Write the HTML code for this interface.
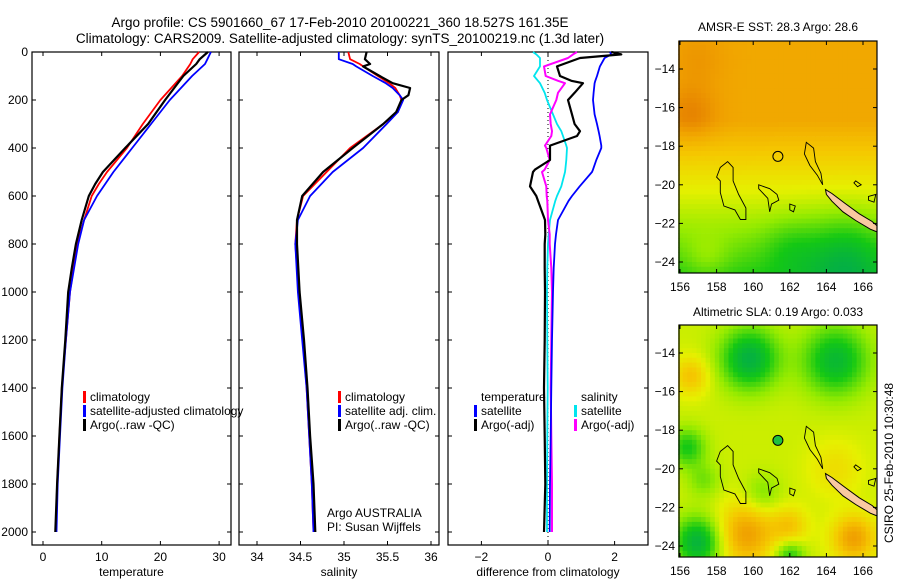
<!DOCTYPE html>
<html><head><meta charset="utf-8"><style>
html,body{margin:0;padding:0;background:#fff;}
svg{display:block;font-family:"Liberation Sans",sans-serif;}
text{font-size:12px;fill:#000;}
</style></head><body>
<svg id="fig" width="900" height="580" viewBox="0 0 900 580">
<text x="340" y="27" text-anchor="middle" style="font-size:13.5px">Argo profile: CS 5901660_67 17-Feb-2010 20100221_360 18.527S 161.35E</text>
<text x="340" y="43" text-anchor="middle" style="font-size:13.5px">Climatology: CARS2009. Satellite-adjusted climatology: synTS_20100219.nc (1.3d later)</text>
<g id="maps"></g>
<g id="panels"></g>
</svg>
<script>
// ---- data ----
const tDepth=[0,30,50,100,200,300,400,500,550,600,700,800,900,1000,1200,1400,1600,1800,2000];
const tClim=[26.6,25.5,25.1,23.7,20,17,14.3,10.9,9.5,8.3,7,5.8,5.2,4.6,3.9,3.2,2.8,2.4,2.2];
const tSat=[28.6,28,27.6,25.4,21.6,18.4,15.2,12,10.6,9.2,7,6,5.3,4.6,3.9,3.3,2.9,2.5,2.3];
const tArgo=[28.1,26.7,26.1,23.9,20.8,17.9,14,10.2,8.9,7.8,6.6,5.6,4.9,4.3,3.8,3.2,2.8,2.4,2.1];
const sDepth=[0,30,50,60,100,130,150,180,200,250,300,400,500,600,700,800,1000,1200,1400,1600,1800,2000];
const sClim=[35.05,35.07,35.18,35.22,35.39,35.52,35.59,35.64,35.66,35.62,35.45,35.07,34.8,34.53,34.46,34.44,34.48,34.53,34.57,34.6,34.63,34.65];
const sSat=[34.94,34.94,35.1,35.14,35.33,35.48,35.56,35.64,35.68,35.62,35.49,35.22,34.87,34.61,34.47,34.44,34.47,34.52,34.57,34.6,34.63,34.65];
const sArgo=[35.26,35.24,35.3,35.22,35.41,35.56,35.76,35.74,35.66,35.6,35.45,35.1,34.76,34.52,34.46,34.46,34.49,34.54,34.58,34.61,34.65,34.67];
const dDepth=[0,10,25,60,100,120,130,170,200,260,300,330,350,390,400,450,490,500,560,600,620,700,760,800,900,1000,1200,1400,1600,1800,2000];
const dTempSat=[1.86,1.9,1.7,1.56,1.47,1.42,1.4,1.37,1.35,1.4,1.47,1.52,1.55,1.6,1.6,1.45,1.35,1.32,0.95,0.72,0.62,0.3,0.24,0.21,0.17,0.15,0.12,0.1,0.08,0.06,0.05];
const dTempArgo=[1.9,2.2,0.96,0.27,0.36,0.7,1.05,0.8,0.6,0.72,0.8,0.96,0.87,0.06,0.06,0.06,-0.39,-0.45,-0.54,-0.35,-0.3,-0.09,-0.08,-0.1,-0.1,-0.09,-0.1,-0.12,-0.1,-0.08,-0.12];
const dSalSat=[-0.45,-0.35,-0.24,-0.24,-0.42,-0.3,-0.24,-0.1,-0.03,0.15,0.27,0.4,0.45,0.55,0.57,0.55,0.52,0.51,0.4,0.27,0.22,0.06,0.02,0.0,-0.02,-0.03,-0.02,-0.01,-0.02,-0.03,-0.03];
const dSalArgo=[0.87,0.75,0.6,-0.12,-0.07,0.3,0.51,0.3,0.25,0.06,0.08,0.12,0.1,-0.09,-0.05,0.05,-0.1,-0.18,-0.05,-0.04,-0.02,0.0,0.05,0.05,0.1,0.12,0.1,0.08,0.1,0.12,0.12];
const depthTicks=[0,200,400,600,800,1000,1200,1400,1600,1800,2000];
const tempTicks=[0,10,20,30];
const salTicks=[34,34.5,35,35.5,36];
const diffTicks=[-2,0,2];
const latTicks=[-14,-16,-18,-20,-22,-24];
const lonTicks=[156,158,160,162,164,166];

const NS='http://www.w3.org/2000/svg';
function mk(tag,attrs,parent){const e=document.createElementNS(NS,tag);for(const k in attrs)e.setAttribute(k,attrs[k]);parent.appendChild(e);return e;}
const panelsG=document.getElementById('panels');
const mapsG=document.getElementById('maps');
const Y0=52,Y1=545;
const yD=d=>Y0+d*0.24;

function panel(x0,x1,xv,ticks,fmt,label,name,showY){
  const g=mk('g',{},panelsG);
  
  
  const r=mk('rect',{x:x0,y:Y0,width:x1-x0,height:Y1-Y0,fill:'none',stroke:'#000','stroke-width':1.2},g);
  
  
  depthTicks.forEach(d=>{
    const y=yD(d);
    mk('line',{x1:x0,x2:x0+4,y1:y,y2:y,stroke:'#000'},g);
    mk('line',{x1:x1-4,x2:x1,y1:y,y2:y,stroke:'#000'},g);
    if(showY){const t=mk('text',{x:x0-4,y:y+4,'text-anchor':'end'},g);t.textContent=d;
      
      }
  });
  ticks.forEach(v=>{
    const x=xv(v);
    mk('line',{x1:x,x2:x,y1:Y1,y2:Y1-4,stroke:'#000'},g);
    mk('line',{x1:x,x2:x,y1:Y0,y2:Y0+4,stroke:'#000'},g);
    const t=mk('text',{x:x,y:Y1+16,'text-anchor':'middle'},g);t.textContent=fmt(v);
    
    
  });
  const lt=mk('text',{x:(x0+x1)/2,y:Y1+31,'text-anchor':'middle'},g);lt.textContent=label;
  
  
  return g;
}
function series(g,depths,vals,xv,color,w,name){
  const pts=depths.map((d,i)=>xv(vals[i]).toFixed(1)+','+yD(d).toFixed(1)).join(' ');
  const p=mk('polyline',{points:pts,fill:'none',stroke:color,'stroke-width':w,'stroke-linejoin':'round'},g);
  
  
}
function legend(g,x,y,items){
  items.forEach((it,i)=>{
    if(it[1]) mk('rect',{x:x,y:y+i*14-10,width:3,height:12,fill:it[1]},g);
    const t=mk('text',{x:x+7,y:y+i*14},g);t.textContent=it[0];
    
    
  });
}
// temperature
const xT=v=>43+v*5.87;
const gT=panel(32,231,xT,tempTicks,v=>v,'temperature','temperature-panel',true);
series(gT,tDepth,tClim,xT,'#ff0000',1.8,'temp-climatology-line');
series(gT,tDepth,tSat,xT,'#0000ff',1.8,'temp-satellite-line');
series(gT,tDepth,tArgo,xT,'#000',2.2,'temp-argo-line');
const lgT=mk('g',{},gT);


legend(lgT,83,401,[['climatology','#f00'],['satellite-adjusted climatology','#00f'],['Argo(..raw -QC)','#000']]);
// salinity
const xS=v=>257+(v-34)*87;
const gS=panel(239,439,xS,salTicks,v=>v,'salinity','salinity-panel',false);
series(gS,sDepth,sClim,xS,'#ff0000',1.8,'sal-climatology-line');
series(gS,sDepth,sSat,xS,'#0000ff',1.8,'sal-satellite-line');
series(gS,sDepth,sArgo,xS,'#000',2.2,'sal-argo-line');
const lgS=mk('g',{},gS);


legend(lgS,338,401,[['climatology','#f00'],['satellite adj. clim.','#00f'],['Argo(..raw -QC)','#000']]);
const a1=mk('text',{x:327,y:517},gS);a1.textContent='Argo AUSTRALIA';


const a2=mk('text',{x:327,y:531},gS);a2.textContent='PI: Susan Wijffels';


// difference
const xDf=v=>548+v*33.3;
const gD=panel(448,648,xDf,diffTicks,v=>v<0?'\u2212'+(-v):v,'difference from climatology','difference-panel',false);
mk('line',{x1:548,x2:548,y1:Y0,y2:Y1,stroke:'#000','stroke-dasharray':'1,3'},gD);
series(gD,dDepth,dSalSat,xDf,'#00e5ee',1.8,'diff-sal-satellite-line');
series(gD,dDepth,dSalArgo,xDf,'#ff00ff',2,'diff-sal-argo-line');
series(gD,dDepth,dTempSat,xDf,'#0000ff',1.8,'diff-temp-satellite-line');
series(gD,dDepth,dTempArgo,xDf,'#000',2.2,'diff-temp-argo-line');
const lgD=mk('g',{},gD);


legend(lgD,474,401,[['temperature',null],['satellite','#00f'],['Argo(-adj)','#000']]);
legend(lgD,574,401,[['salinity',null],['satellite','#00e5ee'],['Argo(-adj)','#f0f']]);

// ---- maps ----
const cmap=[[0,[0,170,80]],[0.2,[20,200,20]],[0.4,[150,235,0]],[0.55,[230,240,0]],[0.7,[245,200,0]],[0.85,[240,160,0]],[1,[225,115,0]]];
function col(v){v=Math.max(0,Math.min(1,v));for(let i=1;i<cmap.length;i++){if(v<=cmap[i][0]){const a=cmap[i-1],b=cmap[i],t=(v-a[0])/(b[0]-a[0]);return 'rgb('+a[1].map((c,k)=>Math.round(c+(b[1][k]-c)*t)).join(',')+')';}}return 'rgb(225,115,0)';}
function blob(lon,lat,cx,cy,r,a){const d=((lon-cx)**2+(lat-cy)**2)/(r*r);return a*Math.exp(-d);}
function sst(lon,lat){let v=0.55+(lat+20.3)*0.075;v=Math.min(v,0.82);
  v+=blob(lon,lat,156.6,-16.3,1.4,0.12)+blob(lon,lat,157,-13.5,1.5,0.06);
  v-=blob(lon,lat,165,-23.8,2.2,0.22)+blob(lon,lat,162,-23.2,1.5,0.1);
  v+=blob(lon,lat,157.5,-23.8,1.2,0.1);return v;}
function sla(lon,lat){let v=0.5;
  v-=blob(lon,lat,159.8,-14.3,1.6,0.45)+blob(lon,lat,164.5,-14.4,1.8,0.4)+blob(lon,lat,157,-23.8,1.3,0.45)+blob(lon,lat,156.4,-18.9,1,0.3)+blob(lon,lat,162,-24.5,0.8,0.3)+blob(lon,lat,157.3,-20.6,0.9,0.15)+blob(lon,lat,160.5,-21.3,1,0.15);
  v+=blob(lon,lat,156.6,-15.2,1,0.22)+blob(lon,lat,159.6,-23.4,1.6,0.35)+blob(lon,lat,165.5,-23.6,1.2,0.35)+blob(lon,lat,162,-23,1,0.2)+blob(lon,lat,164.5,-20,1.5,0.12);
  return v;}
function drawMap(top,bot,field,title,name,filled,titleY,labY){
  const g=mk('g',{},mapsG);
  
  
  const L=679,R=877;
  const xL=lon=>680+(lon-156)*18.3;
  const y14=top+28,yL=lat=>y14+(-14-lat)*19.3;
  const cw=0.25;
  for(let lat=-12.5;lat>-24.75;lat-=cw){for(let lon=155.9;lon<166.9;lon+=cw){
    const x=xL(lon),y=yL(lat);
    const x2=Math.min(xL(lon+cw),R),y2=Math.min(yL(lat-cw),bot);
    const yy=Math.max(y,top);if(y2<=yy||x2<=x)continue;
    mk('rect',{x:x.toFixed(1),y:yy.toFixed(1),width:(x2-x+0.4).toFixed(1),height:(y2-yy+0.4).toFixed(1),fill:col(field(lon+cw/2,lat-cw/2))},g);}}
  const lp=pts=>pts.map(p=>xL(p[0]).toFixed(1)+','+yL(p[1]).toFixed(1)).join(' ');
  const nc=mk('polygon',{points:lp([[163.95,-20.25],[164.3,-20.45],[165,-20.95],[165.8,-21.5],[166.5,-21.9],[166.8,-22.15],[166.8,-22.45],[166.4,-22.3],[165.6,-21.85],[164.9,-21.4],[164.3,-20.85],[164,-20.5]]),fill:'#f9c9a0',stroke:'#000','stroke-width':1},g);
  
  
  const outlines=[
    [[158.6,-18.8],[158.9,-19.1],[158.9,-19.8],[159.2,-20.5],[159.6,-21.2],[159.6,-21.8],[159.3,-21.8],[159,-21.3],[158.4,-21.1],[158.2,-20.4],[158.2,-19.8],[158,-19.6],[158.2,-19.1]],
    [[160.3,-20],[160.9,-20.2],[161.3,-20.5],[161.4,-20.8],[161,-21],[160.9,-21.4],[160.8,-20.7],[160.3,-20.2]],
    [[162.9,-17.8],[163.3,-18.1],[163.4,-18.8],[163.7,-19.4],[163.8,-20],[163.5,-19.5],[163.1,-19],[162.8,-18.4]],
    [[162,-21],[162.3,-21.1],[162.2,-21.4],[162,-21.3]],
    [[165.6,-19.8],[165.9,-20],[165.7,-20.1],[165.5,-19.9]],
    [[166.3,-20.6],[166.7,-20.5],[166.6,-20.9],[166.3,-20.8]]];
  outlines.forEach(o=>{const p=mk('polygon',{points:lp(o),fill:'none',stroke:'#000','stroke-width':0.9},g);
    
    });
  const c=mk('circle',{cx:xL(161.35),cy:yL(-18.527),r:5,fill:filled?'#20c040':'none',stroke:'#000','stroke-width':1},g);
  
  
  mk('rect',{x:R,y:top,width:8,height:bot-top,fill:'#fff'},g);
  const fr=mk('rect',{x:L,y:top,width:R-L,height:bot-top,fill:'none',stroke:'#000','stroke-width':1.2},g);
  
  
  latTicks.forEach(la=>{const y=yL(la);mk('line',{x1:L,x2:L+4,y1:y,y2:y,stroke:'#000'},g);mk('line',{x1:R-4,x2:R,y1:y,y2:y,stroke:'#000'},g);
    const t=mk('text',{x:L-4,y:y+4,'text-anchor':'end'},g);t.textContent='\u2212'+(-la);
    
    });
  lonTicks.forEach(lo=>{const x=xL(lo);mk('line',{x1:x,x2:x,y1:bot,y2:bot-4,stroke:'#000'},g);mk('line',{x1:x,x2:x,y1:top,y2:top+4,stroke:'#000'},g);
    const t=mk('text',{x:x,y:labY,'text-anchor':'middle'},g);t.textContent=lo;
    
    });
  const tt=mk('text',{x:778,y:titleY,'text-anchor':'middle'},g);tt.textContent=title;
  
  
}
drawMap(41,273,sst,'AMSR-E SST: 28.3 Argo: 28.6','sst-map',false,31,291);
drawMap(325,557,sla,'Altimetric SLA: 0.19 Argo: 0.033','sla-map',true,316,575);
const cs=mk('text',{x:0,y:0,transform:'translate(893,463) rotate(-90)','text-anchor':'middle'},mapsG);
cs.textContent='CSIRO 25-Feb-2010 10:30:48';


</script>
</body></html>
